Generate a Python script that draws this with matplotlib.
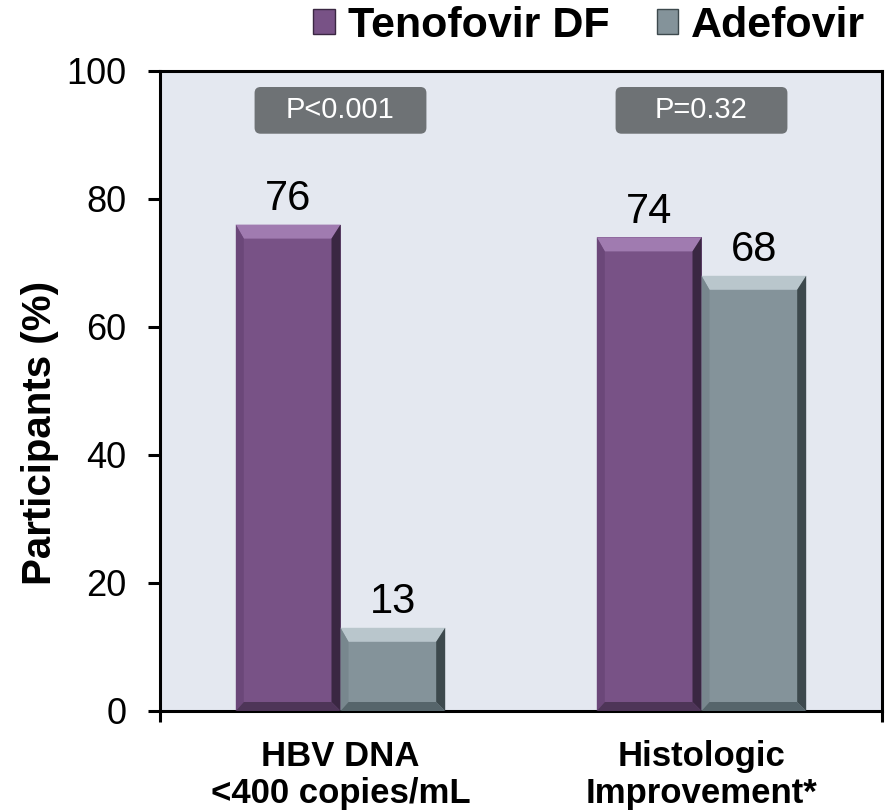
import matplotlib
matplotlib.use("Agg")
import matplotlib.pyplot as plt
from matplotlib.patches import Polygon, Patch, FancyBboxPatch

plt.rcParams['font.family'] = ['Liberation Sans', 'DejaVu Sans']

categories = ["HBV DNA\n<400 copies/mL", "Histologic\nImprovement*"]
series_names = ["Tenofovir DF", "Adefovir"]
tenofovir = [76, 74]
adefovir = [13, 68]
p_values = ["P<0.001", "P=0.32"]
y_ticks = [0, 20, 40, 60, 80, 100]

# face, top, left, right, bottom shades for the bevelled bars
purple = dict(face="#785286", top="#a07bb0", left="#6b4779", right="#3a2742", bottom="#4e3558")
grey = dict(face="#84939a", top="#b9c6cc", left="#78878e", right="#3d494d", bottom="#56656b")

fig = plt.figure(figsize=(8.86, 8.11), dpi=100)
ax = fig.add_axes([160 / 886, 100 / 811, 722 / 886, 640 / 811])
ax.set_facecolor("#e4e8f0")

x = [0, 1]
w = 0.29
bars_t = ax.bar([i - w / 2 for i in x], tenofovir, width=w, color=purple["face"],
                edgecolor="none", zorder=2)
bars_a = ax.bar([i + w / 2 for i in x], adefovir, width=w, color=grey["face"],
                edgecolor="none", zorder=2)

ax.set_xlim(-0.5, 1.5)
ax.set_ylim(0, 100)

# pixel -> data scale for the bevel insets
fig.canvas.draw()
inv = ax.transData.inverted()
(x_a, y_a), (x_b, y_b) = inv.transform([(0, 0), (1, 1)])
px_x, px_y = x_b - x_a, y_b - y_a


def bevel(bar, c):
    x0, y0 = bar.get_x(), bar.get_y()
    x1, y1 = x0 + bar.get_width(), y0 + bar.get_height()
    sl, sr, st, sb = 8 * px_x, 9 * px_x, 14 * px_y, 9 * px_y
    ix0, ix1, iy0, iy1 = x0 + sl, x1 - sr, y0 + sb, y1 - st
    sides = [
        ([(x0, y1), (x1, y1), (ix1, iy1), (ix0, iy1)], c["top"]),
        ([(x0, y0), (x0, y1), (ix0, iy1), (ix0, iy0)], c["left"]),
        ([(x1, y0), (x1, y1), (ix1, iy1), (ix1, iy0)], c["right"]),
        ([(x0, y0), (x1, y0), (ix1, iy0), (ix0, iy0)], c["bottom"]),
    ]
    for pts, col in sides:
        ax.add_patch(Polygon(pts, closed=True, facecolor=col, edgecolor="none", zorder=3))


for b in bars_t:
    bevel(b, purple)
for b in bars_a:
    bevel(b, grey)

for bars, vals in [(bars_t, tenofovir), (bars_a, adefovir)]:
    for b, v in zip(bars, vals):
        ax.annotate(str(v), (b.get_x() + b.get_width() / 2, v), xytext=(0, 4),
                    textcoords="offset points", ha="center", va="bottom",
                    fontsize=30, zorder=4)

# p-value boxes
bw, y_lo, y_hi = 0.476, 90.2, 97.5
for xi, p in zip(x, p_values):
    box = FancyBboxPatch((xi - bw / 2, y_lo), bw, y_hi - y_lo,
                         boxstyle="round,pad=0,rounding_size=%f" % (6 * px_x),
                         mutation_aspect=px_y / px_x, facecolor="#6e7275",
                         edgecolor="none", zorder=3)
    ax.add_patch(box)
    ax.text(xi, (y_lo + y_hi) / 2, p, ha="center", va="center", color="white",
            fontsize=21, zorder=4)

for s in ax.spines.values():
    s.set_linewidth(2.2)

ax.set_yticks(y_ticks)
ax.tick_params(axis="y", labelsize=26, length=9, width=2.2, pad=15)
ax.set_xticks([-0.5, 1.5])
ax.set_xticklabels([])
ax.tick_params(axis="x", which="major", length=8, width=2.2)
ax.set_xticks(x, minor=True)
ax.set_xticklabels(categories, minor=True, fontsize=25, fontweight="bold",
                   linespacing=1.15)
ax.tick_params(axis="x", which="minor", length=0, pad=21)

ax.set_ylabel("Participants (%)", fontsize=29, fontweight="bold")
ax.yaxis.set_label_coords(-0.14, 0.435)

handles = [Patch(facecolor=purple["face"], edgecolor=purple["right"]),
           Patch(facecolor=grey["face"], edgecolor=grey["right"])]
fig.legend(handles, series_names, loc="center", bbox_to_anchor=(0.665, 0.968),
           ncol=2, frameon=False, prop={"size": 31, "weight": "bold"},
           handlelength=0.5, handleheight=0.5, handletextpad=0.3,
           columnspacing=1.1, borderpad=0)

fig.savefig("out.png", dpi=100)
